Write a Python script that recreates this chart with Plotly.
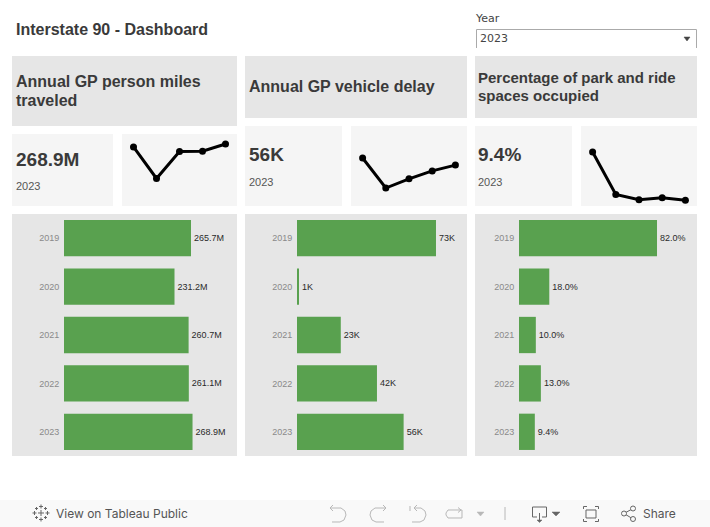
import plotly.graph_objects as go

W, H = 710, 527

years = ["2019", "2020", "2021", "2022", "2023"]
miles = [265.7, 231.2, 260.7, 261.1, 268.9]
miles_labels = ["265.7M", "231.2M", "260.7M", "261.1M", "268.9M"]
delay = [73, 1, 23, 42, 56]
delay_labels = ["73K", "1K", "23K", "42K", "56K"]
parking = [82.0, 18.0, 10.0, 13.0, 9.4]
parking_labels = ["82.0%", "18.0%", "10.0%", "13.0%", "9.4%"]

GREEN = "#59a14f"
PANEL = "#e6e6e6"
KPI = "#f5f5f5"
DARK = "#3a3a3a"
SANS = "Liberation Sans, Arial, sans-serif"
ICON = "#b8b8b8"
ICON_DARK = "#666666"


def fx(p):
    return p / W


def fy(p):
    return 1 - p / H


fig = go.Figure()
shapes, notes = [], []


def rect(x0, y0, x1, y1, color):
    shapes.append(dict(type="rect", xref="paper", yref="paper", x0=fx(x0), x1=fx(x1),
                       y0=fy(y1), y1=fy(y0), fillcolor=color, line_width=0, layer="below"))


def poly(points, color, width=1.0, fill=None, closed=False):
    d = "M" + " L".join(f"{fx(a):.5f},{fy(b):.5f}" for a, b in points) + (" Z" if closed else "")
    shapes.append(dict(type="path", xref="paper", yref="paper", path=d,
                       line=dict(color=color, width=width),
                       fillcolor=fill if fill else "rgba(0,0,0,0)", layer="above"))


def text(x, y, s, size, color=DARK, bold=False, family=SANS):
    notes.append(dict(xref="paper", yref="paper", x=fx(x - 1), y=fy(y), text=f"<b>{s}</b>" if bold else s,
                      showarrow=False, xanchor="left", yanchor="middle", borderpad=0,
                      font=dict(size=size, color=color, family=family)))


columns = [
    dict(l=12, r=237, hb=126, kt=134, kr=113, sl=122, ax=64, vals=miles, labs=miles_labels, off=4, hs=16,
         scale=0.478, sr=[201.1, 279.9], kpi="268.9M", ky=159, yy=186, head=[(81, "Annual GP person miles"), (100.5, "traveled")]),
    dict(l=245, r=467, hb=118, kt=126, kr=342, sl=351, ax=297, vals=delay, labs=delay_labels, off=4, hs=16,
         scale=1.904, sr=[-42.1, 149.7], kpi="56K", ky=154, yy=182, head=[(87, "Annual GP vehicle delay")]),
    dict(l=475, r=697, hb=118, kt=126, kr=572, sl=581, ax=519, vals=parking, labs=parking_labels, off=3, hs=15,
         scale=1.683, sr=[0.7, 121.2], kpi="9.4%", ky=154, yy=182, head=[(78, "Percentage of park and ride"), (96, "spaces occupied")]),
]

layout_axes = {}
for i, c in enumerate(columns):
    rect(c["l"], 56, c["r"], c["hb"], PANEL)
    rect(c["l"], c["kt"], c["kr"], 206, KPI)
    rect(c["sl"], c["kt"], c["r"], 206, KPI)
    rect(c["l"], 214, c["r"], 456, PANEL)
    for y, s in c["head"]:
        text(c["l"] + c["off"], y, s, c["hs"], bold=True)
    text(c["l"] + c["off"], c["ky"], c["kpi"], 19, bold=True)
    text(c["l"] + c["off"], c["yy"], "2023", 11, color="#555555")

    n = 2 * i + 1
    xa, ya = f"x{n}", f"y{n}"
    fig.add_trace(go.Bar(x=c["vals"], y=years, orientation="h", marker_color=GREEN, marker_line_width=0,
                         text=c["labs"], textposition="outside", cliponaxis=False,
                         textfont=dict(size=9, color="#2a2a2a", family=SANS),
                         hoverinfo="skip", xaxis=xa, yaxis=ya, showlegend=False))
    layout_axes[f"xaxis{n}"] = dict(domain=[fx(c["ax"]), fx(c["r"])], range=[0, (c["r"] - c["ax"]) / c["scale"]],
                                    anchor=ya, showticklabels=False, ticks="", tickvals=[0], showgrid=True,
                                    gridcolor="#c4c4c4", griddash="dot", gridwidth=1, zeroline=False, fixedrange=True)
    layout_axes[f"yaxis{n}"] = dict(domain=[fy(456), fy(214)], anchor=xa, type="category", autorange="reversed",
                                    categoryorder="array", categoryarray=years, ticks="outside", ticklen=2,
                                    tickcolor="rgba(0,0,0,0)", tickfont=dict(size=9, color="#8a8a8a", family=SANS),
                                    showline=False, showgrid=False, zeroline=False, fixedrange=True)

    m = 2 * i + 2
    xb, yb = f"x{m}", f"y{m}"
    fig.add_trace(go.Scatter(x=years, y=c["vals"], mode="lines+markers", line=dict(color="black", width=3),
                             marker=dict(color="black", size=7), hoverinfo="skip", xaxis=xb, yaxis=yb,
                             showlegend=False, cliponaxis=False))
    layout_axes[f"xaxis{m}"] = dict(domain=[fx(c["sl"]), fx(c["r"])], type="category", range=[-0.5, 4.5], anchor=yb,
                                    visible=False, fixedrange=True)
    layout_axes[f"yaxis{m}"] = dict(domain=[fy(206), fy(c["kt"])], range=c["sr"], anchor=xb, visible=False, fixedrange=True)

# Title and year filter
text(16, 29, "Interstate 90 - Dashboard", 16, bold=True)
DJ = "DejaVu Sans"
text(475, 18, "Year", 11, color="#444444", family=DJ)
poly([(476.5, 48), (476.5, 29.5), (696.5, 29.5), (696.5, 48)], "#aaaaaa", 1)
text(480, 38, "2023", 11, color="#444444", family=DJ)
poly([(684, 37), (690, 37), (687, 41)], "#444444", 0.5, fill="#444444", closed=True)

# Toolbar
rect(0, 500, W, H, "#f9f9f9")
TB = "Inter, Roboto, sans-serif"
text(56, 513.5, "View on Tableau Public", 12, color="#555555", family=TB)
text(643, 513.5, "Share", 12, color="#555555", family=TB)

for cx, cy, r in [(41, 513, 3), (41, 506.5, 2), (41, 519.5, 2), (34.5, 513, 2), (47.5, 513, 2),
                  (36.5, 508.5, 1.5), (45.5, 508.5, 1.5), (36.5, 517.5, 1.5), (45.5, 517.5, 1.5)]:
    poly([(cx - r, cy), (cx + r, cy)], ICON_DARK, 1)
    poly([(cx, cy - r), (cx, cy + r)], ICON_DARK, 1)

# undo, redo, revert, refresh
poly([(330, 508), (341, 508), (345, 511), (346, 515), (344, 520), (340, 522), (332, 522)], ICON)
poly([(333, 505), (330, 508), (333, 511)], ICON)
poly([(386, 508), (375, 508), (371, 511), (370, 515), (372, 520), (376, 522), (384, 522)], ICON)
poly([(383, 505), (386, 508), (383, 511)], ICON)
poly([(414, 508), (421, 508), (425, 511), (426, 515), (424, 520), (420, 522), (412, 522)], ICON)
poly([(417, 505), (414, 508), (417, 511)], ICON)
poly([(410, 506), (410, 511)], ICON)
poly([(448, 510), (462, 510), (462, 518), (448, 518), (446, 515), (446, 513), (448, 510)], ICON)
poly([(458, 507.5), (461, 510), (458, 512.5)], ICON)
poly([(477, 512), (484, 512), (480.5, 516)], ICON, 0.5, fill=ICON, closed=True)
poly([(505, 507), (505, 520)], ICON)
# download
poly([(537, 517), (532.5, 517), (532.5, 507), (546.5, 507), (546.5, 517), (542, 517)], ICON_DARK)
poly([(539.5, 513), (539.5, 522)], ICON_DARK)
poly([(537, 520), (539.5, 522.5), (542, 520)], ICON_DARK, 0.5, fill=ICON_DARK, closed=True)
poly([(552, 512), (560, 512), (556, 516)], ICON_DARK, 0.5, fill=ICON_DARK, closed=True)
# fullscreen
poly([(586, 510), (596, 510), (596, 518), (586, 518), (586, 510)], ICON_DARK)
for a, b, c_ in [((583.5, 509), (583.5, 506.5), (587, 506.5)), ((595, 506.5), (598.5, 506.5), (598.5, 509)),
                 ((583.5, 519), (583.5, 521.5), (587, 521.5)), ((595, 521.5), (598.5, 521.5), (598.5, 519))]:
    poly([a, b, c_], ICON_DARK)
# share
poly([(633, 508.5), (624, 513.5), (633, 519)], ICON_DARK)
for cx, cy, r in [(633, 508.5, 2.5), (624, 513.5, 2.5), (633, 519, 2.5)]:
    shapes.append(dict(type="circle", xref="paper", yref="paper", x0=fx(cx - r), x1=fx(cx + r),
                       y0=fy(cy + r), y1=fy(cy - r), line=dict(color=ICON_DARK, width=1), fillcolor="#f9f9f9"))

fig.update_layout(width=W, height=H, margin=dict(l=0, r=0, t=0, b=0), autosize=False,
                  paper_bgcolor="white", plot_bgcolor="rgba(0,0,0,0)", bargap=0.25,
                  shapes=shapes, annotations=notes, showlegend=False, **layout_axes)

fig.write_html("out.html", config=dict(displayModeBar=False),
               post_script="document.body.style.margin='0';document.body.style.overflow='hidden';")
